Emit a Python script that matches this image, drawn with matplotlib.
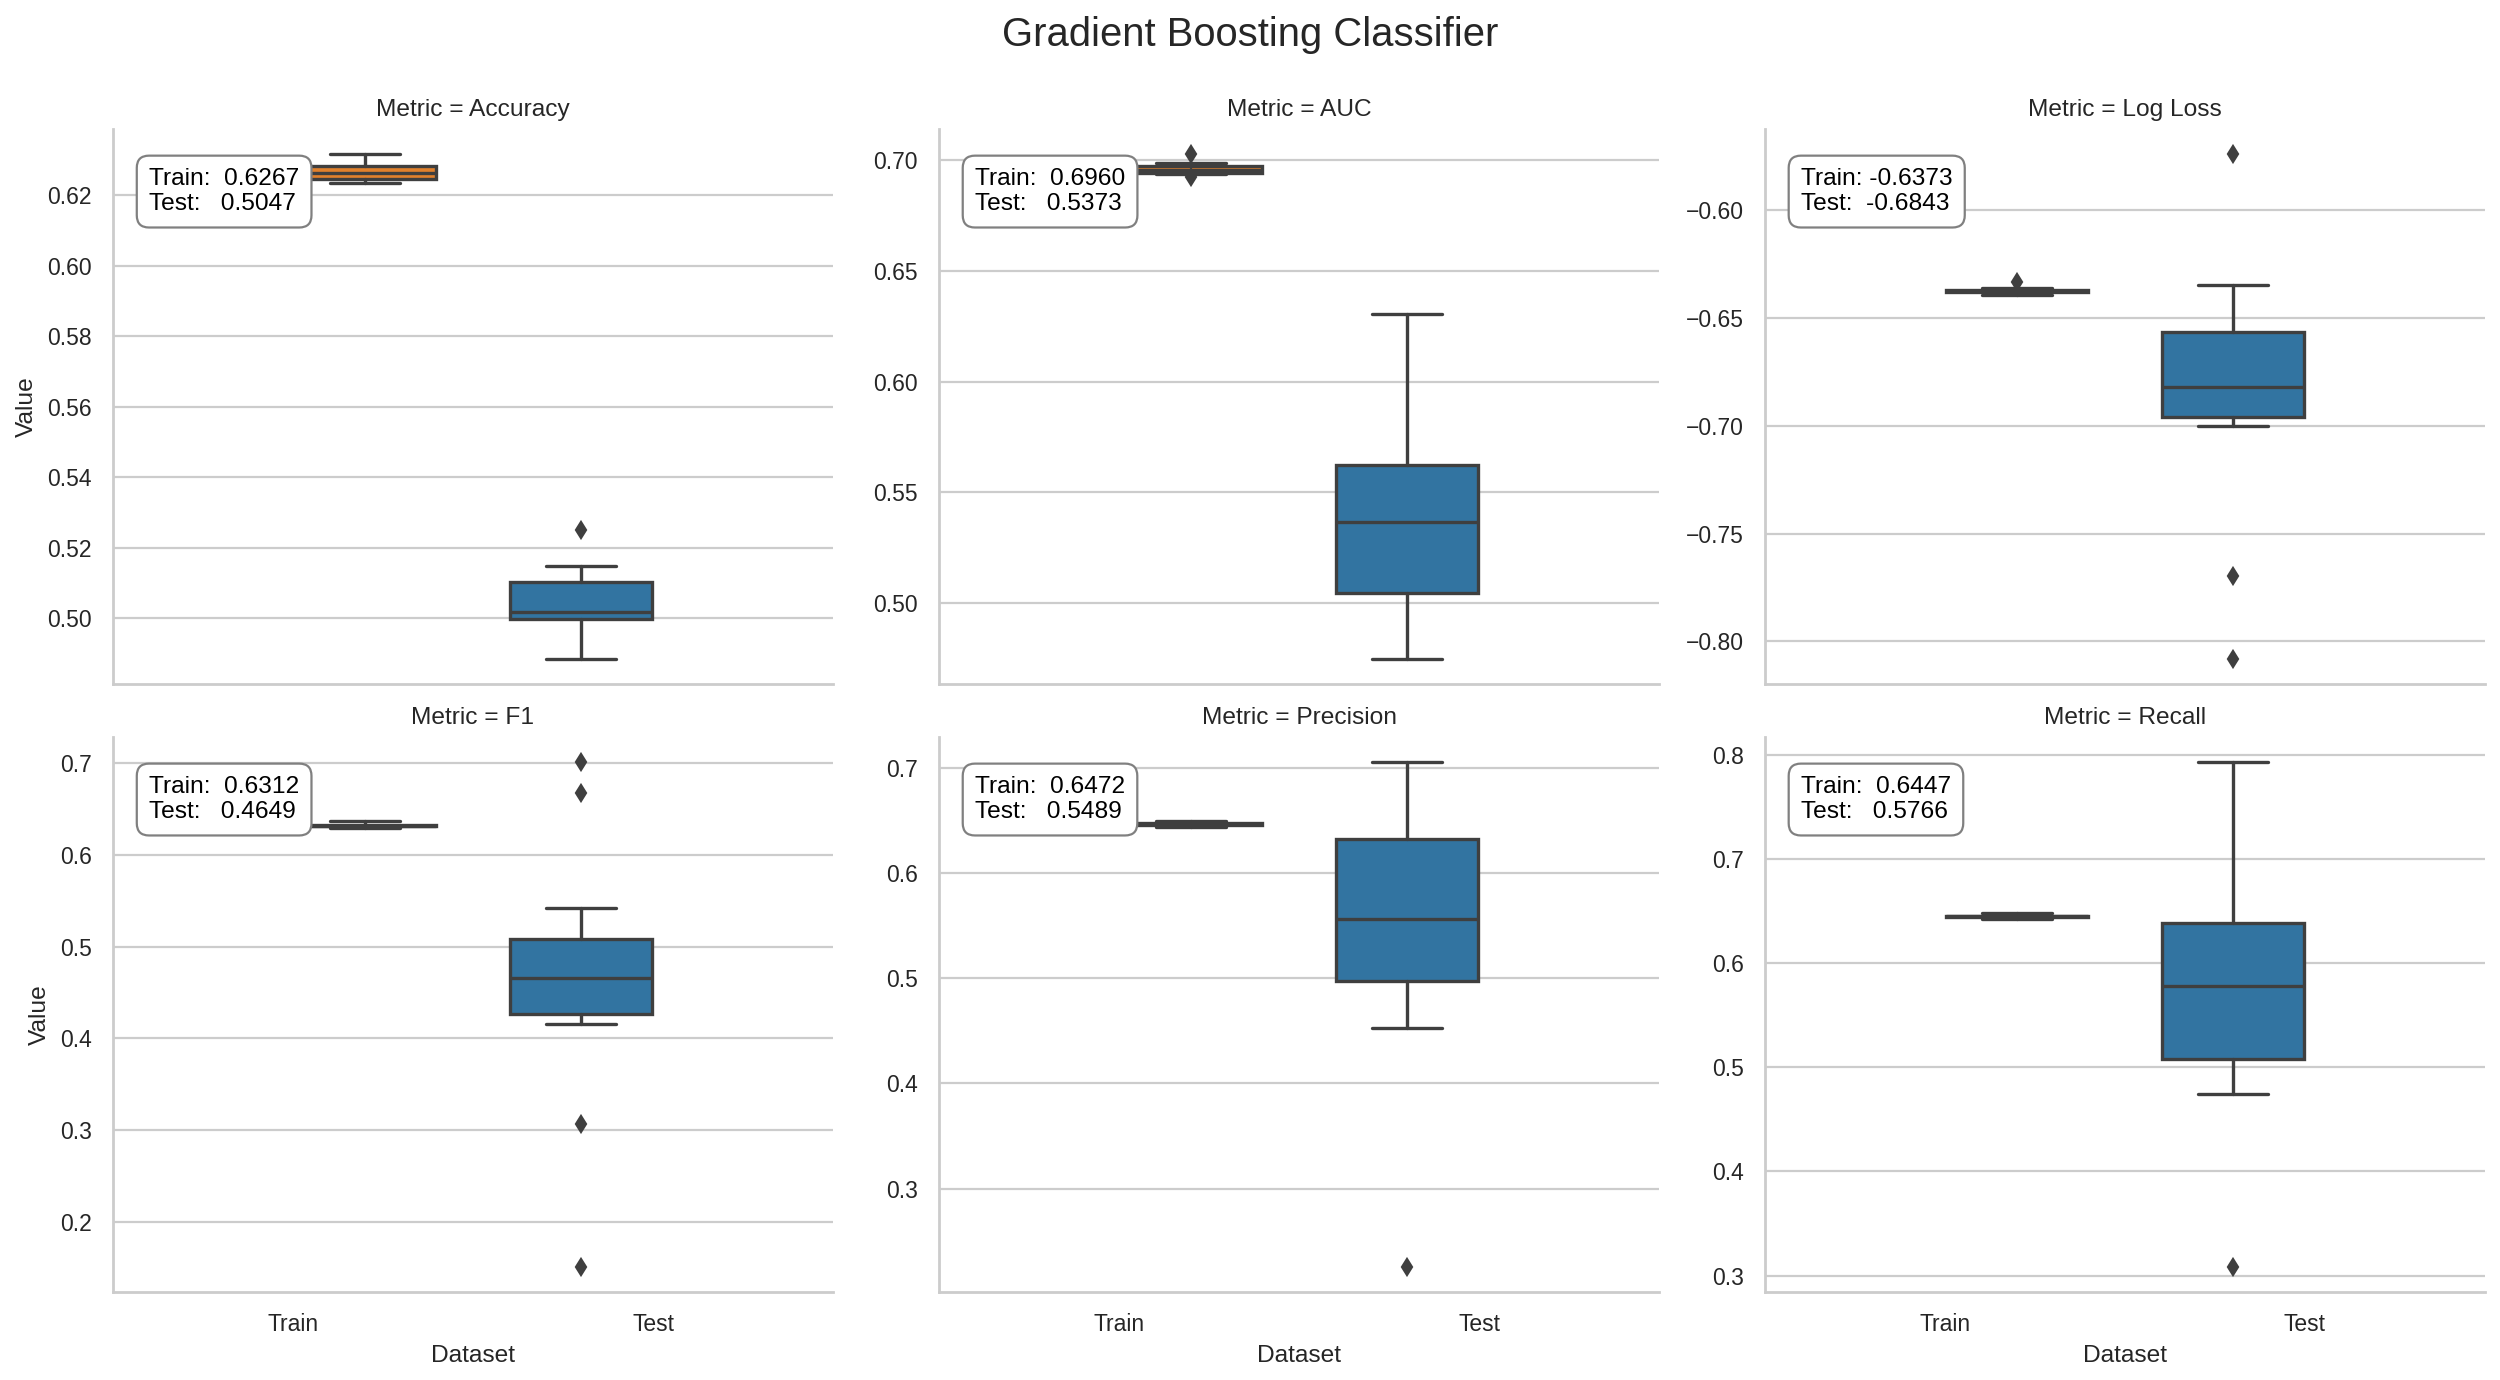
import matplotlib
matplotlib.use("Agg")
import matplotlib.pyplot as plt
from matplotlib.ticker import FixedLocator
import seaborn as sns

# summary values
metrics = ["Accuracy", "AUC", "Log Loss", "F1", "Precision", "Recall"]
datasets = ["Train", "Test"]

train_mean = [0.6267, 0.6960, -0.6373, 0.6312, 0.6472, 0.6447]
test_mean = [0.5047, 0.5373, -0.6843, 0.4649, 0.5489, 0.5766]

# (whislo, q1, med, q3, whishi)
train_box = [
    (0.6236, 0.6247, 0.6265, 0.6285, 0.6317),
    (0.6938, 0.6943, 0.6955, 0.6973, 0.6986),
    (-0.6392, -0.6378, -0.6373, -0.6368, -0.6358),
    (0.6287, 0.6310, 0.6318, 0.6328, 0.6368),
    (0.6439, 0.6460, 0.6468, 0.6475, 0.6499),
    (0.6420, 0.6442, 0.6448, 0.6455, 0.6480),
]
train_fliers = [[], [0.7027, 0.6923], [-0.6333], [], [], []]

test_box = [
    (0.4885, 0.4998, 0.5017, 0.5102, 0.5147),
    (0.4748, 0.5046, 0.5366, 0.5625, 0.6304),
    (-0.7002, -0.6958, -0.6820, -0.6563, -0.6347),
    (0.4153, 0.4267, 0.4657, 0.5081, 0.5422),
    (0.4531, 0.4979, 0.5563, 0.6321, 0.7056),
    (0.4747, 0.5082, 0.5779, 0.6384, 0.7929),
]
test_fliers = [[0.5251], [], [-0.5739, -0.7699, -0.8081],
               [0.7008, 0.6669, 0.3061, 0.1511], [0.2256], [0.3085]]

yticks = [
    [0.50, 0.52, 0.54, 0.56, 0.58, 0.60, 0.62],
    [0.50, 0.55, 0.60, 0.65, 0.70],
    [-0.80, -0.75, -0.70, -0.65, -0.60],
    [0.2, 0.3, 0.4, 0.5, 0.6, 0.7],
    [0.3, 0.4, 0.5, 0.6, 0.7],
    [0.3, 0.4, 0.5, 0.6, 0.7, 0.8],
]

sns.set_theme(style="whitegrid", context="notebook")
plt.rcParams["font.family"] = ["Liberation Sans", "DejaVu Sans"]
plt.rcParams["xtick.labelsize"] = 10.3
plt.rcParams["ytick.labelsize"] = 10.3
plt.rcParams["axes.labelsize"] = 11
plt.rcParams["axes.titlesize"] = 11

GRAY = "#3f3f3f"
COL_TEST = "#3274a1"
COL_TRAIN = "#e1812c"


def stats(box, fliers):
    lo, q1, med, q3, hi = box
    return dict(whislo=lo, q1=q1, med=med, q3=q3, whishi=hi, fliers=fliers)


fig, axes = plt.subplots(2, 3, figsize=(15.625, 8.625), dpi=160, sharex=True)
fig.subplots_adjust(left=0.0452, right=0.994, bottom=0.0638, top=0.9065,
                    wspace=0.147, hspace=0.0955)

for i, ax in enumerate(axes.flat):
    st = [stats(train_box[i], train_fliers[i]), stats(test_box[i], test_fliers[i])]
    art = ax.bxp(st, positions=[0.2, 0.8], widths=0.392, patch_artist=True,
                 manage_ticks=False,
                 boxprops=dict(edgecolor=GRAY, linewidth=1.5),
                 medianprops=dict(color=GRAY, linewidth=1.5),
                 whiskerprops=dict(color=GRAY, linewidth=1.5),
                 capprops=dict(color=GRAY, linewidth=1.5),
                 flierprops=dict(marker="d", markerfacecolor=GRAY,
                                 markeredgecolor=GRAY, markersize=5,
                                 linestyle="none"))
    art["boxes"][0].set_facecolor(COL_TRAIN)
    art["boxes"][1].set_facecolor(COL_TEST)

    ax.set_xlim(-0.5, 1.5)
    ax.set_xticks([0, 1])
    ax.set_xticklabels(datasets)
    ax.yaxis.set_major_locator(FixedLocator(yticks[i]))
    ax.xaxis.grid(False)
    for s in ["top", "right"]:
        ax.spines[s].set_visible(False)
    ax.set_title(f"Metric = {metrics[i]}")

    txt = f"Train: {train_mean[i]:7.4f}\nTest:  {test_mean[i]:7.4f}"
    ax.text(0.05, 0.93, txt, transform=ax.transAxes, va="top", ha="left",
            fontsize=11, color="black",
            bbox=dict(boxstyle="round,pad=0.5", facecolor="white",
                      edgecolor="#808080", linewidth=1.0))

for ax in axes[0]:
    ax.tick_params(axis="x", labelbottom=False)
for ax in axes[1]:
    ax.set_xlabel("Dataset")
for ax in axes[:, 0]:
    ax.set_ylabel("Value")

fig.suptitle("Gradient Boosting Classifier", fontsize=18, y=0.975, va="center")

fig.savefig("out.png", dpi=160)
